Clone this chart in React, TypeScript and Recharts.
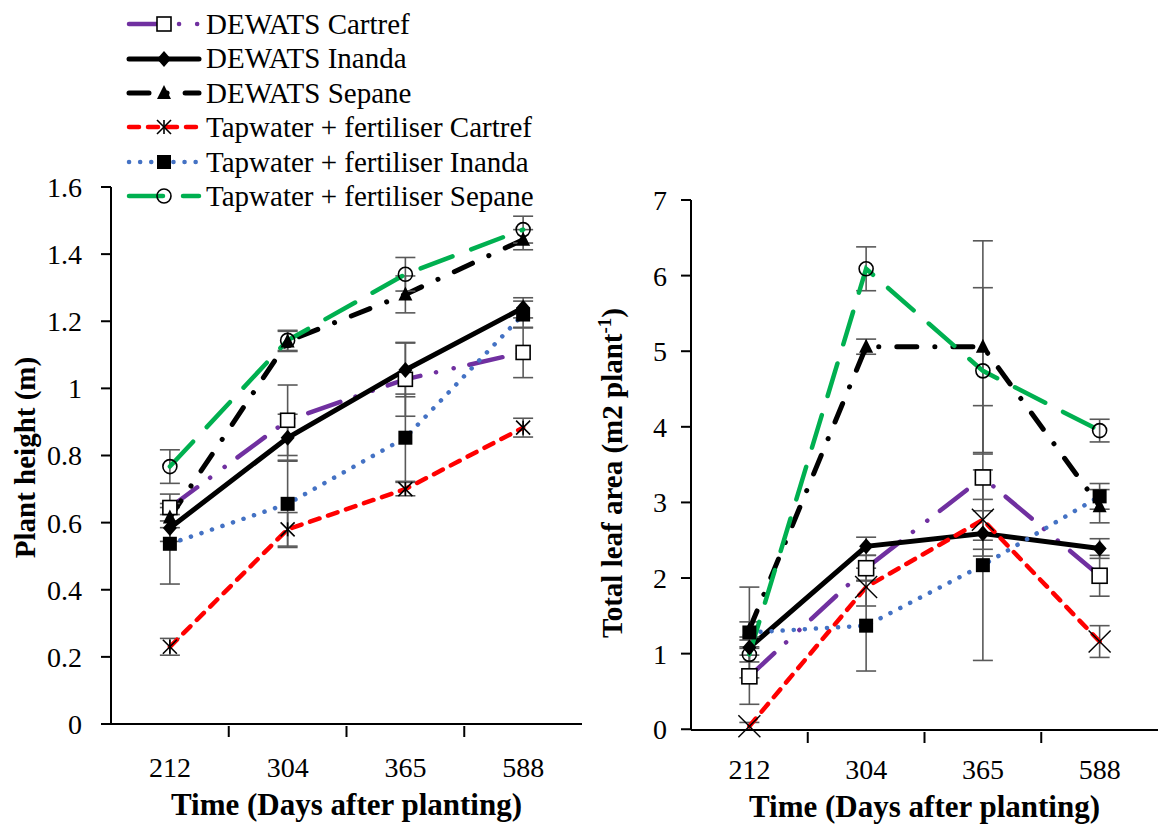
import React from 'react';
import { LineChart, Line, XAxis, YAxis, ErrorBar, Label } from 'recharts';

// categories (days after planting)
const days = ['212', '304', '365', '588'];

// plant height (m)
const heightCartrefD = [0.645, 0.905, 1.027, 1.107];
const heightInandaD = [0.584, 0.853, 1.055, 1.24];
const heightSepaneD = [0.615, 1.14, 1.28, 1.443];
const heightCartrefT = [0.23, 0.58, 0.7, 0.883];
const heightInandaT = [0.537, 0.656, 0.853, 1.22];
const heightSepaneT = [0.767, 1.143, 1.34, 1.473];

const heightErrCartrefD = [0.04, 0.105, 0.11, 0.075];
const heightErrInandaD = [0.04, 0.07, 0.08, 0.03];
const heightErrSepaneD = [0.03, 0.03, 0.055, 0.03];
const heightErrCartrefT = [0.025, 0.05, 0.02, 0.028];
const heightErrInandaT = [0.12, 0.13, 0.13, 0.04];
const heightErrSepaneT = [0.05, 0.03, 0.05, 0.04];

// total leaf area (m2 plant-1)
const areaCartrefD = [0.7, 2.13, 3.33, 2.03];
const areaInandaD = [1.08, 2.42, 2.59, 2.39];
const areaSepaneD = [1.32, 5.06, 5.06, 2.95];
const areaCartrefT = [0.04, 1.88, 2.77, 1.16];
const areaInandaT = [1.28, 1.37, 2.17, 3.08];
const areaSepaneT = [0.99, 6.09, 4.74, 3.95];

const areaErrCartrefD = [0.37, 0.17, 0.95, 0.27];
const areaErrInandaD = [0.1, 0.12, 0.3, 0.13];
const areaErrSepaneD = [0.1, 0.1, 1.4, 0.22];
const areaErrCartrefT = [0.05, 0.25, 0.27, 0.21];
const areaErrInandaT = [0.6, 0.6, 1.26, 0.17];
const areaErrSepaneT = [0.1, 0.29, 1.1, 0.15];

const heightTicks = [0, 0.2, 0.4, 0.6, 0.8, 1, 1.2, 1.4, 1.6];
const areaTicks = [0, 1, 2, 3, 4, 5, 6, 7];

const heightData = days.map((day, i) => ({
  day,
  cd: heightCartrefD[i], cdErr: heightErrCartrefD[i],
  id: heightInandaD[i], idErr: heightErrInandaD[i],
  sd: heightSepaneD[i], sdErr: heightErrSepaneD[i],
  ct: heightCartrefT[i], ctErr: heightErrCartrefT[i],
  it: heightInandaT[i], itErr: heightErrInandaT[i],
  st: heightSepaneT[i], stErr: heightErrSepaneT[i],
}));

const areaData = days.map((day, i) => ({
  day,
  cd: areaCartrefD[i], cdErr: areaErrCartrefD[i],
  id: areaInandaD[i], idErr: areaErrInandaD[i],
  sd: areaSepaneD[i], sdErr: areaErrSepaneD[i],
  ct: areaCartrefT[i], ctErr: areaErrCartrefT[i],
  it: areaInandaT[i], itErr: areaErrInandaT[i],
  st: areaSepaneT[i], stErr: areaErrSepaneT[i],
}));

const FONT = '"Liberation Serif", LiberationSerif, "Times New Roman", Times, "DejaVu Serif", serif';

const series = [
  { key: 'cd', name: 'DEWATS Cartref', color: '#7030A0', dash: '34 16 0.1 18 0.1 16', width: 4.5, marker: 'squareOpen' },
  { key: 'id', name: 'DEWATS Inanda', color: '#000000', dash: undefined, width: 5, marker: 'diamond' },
  { key: 'sd', name: 'DEWATS Sepane', color: '#000000', dash: '20 18 0.1 18', width: 5, marker: 'triangle' },
  { key: 'ct', name: 'Tapwater + fertiliser Cartref', color: '#FF0000', dash: '10 9', width: 4.5, marker: 'asterisk' },
  { key: 'it', name: 'Tapwater + fertiliser Inanda', color: '#4472C4', dash: '0.1 11', width: 4.5, marker: 'square' },
  { key: 'st', name: 'Tapwater + fertiliser Sepane', color: '#00B050', dash: '34 20', width: 4.5, marker: 'circle' },
];

function Marker({ cx, cy, shape, size }: any) {
  if (cx == null || cy == null) return null;
  const h = size / 2;
  switch (shape) {
    case 'squareOpen':
      return <rect x={cx - h} y={cy - h} width={size} height={size} fill="#fff" stroke="#000" strokeWidth={1.6} />;
    case 'square':
      return <rect x={cx - h} y={cy - h} width={size} height={size} fill="#000" />;
    case 'diamond':
      return <polygon points={`${cx},${cy - h - 1} ${cx + h},${cy} ${cx},${cy + h + 1} ${cx - h},${cy}`} fill="#000" />;
    case 'triangle':
      return <polygon points={`${cx},${cy - h - 1} ${cx + h},${cy + h - 1} ${cx - h},${cy + h - 1}`} fill="#000" />;
    case 'circle':
      return <circle cx={cx} cy={cy} r={h} fill="none" stroke="#000" strokeWidth={1.6} />;
    case 'asterisk':
      return (
        <g stroke="#000" strokeWidth={1.6}>
          <line x1={cx - h} y1={cy - h} x2={cx + h} y2={cy + h} />
          <line x1={cx - h} y1={cy + h} x2={cx + h} y2={cy - h} />
          <line x1={cx} y1={cy - h} x2={cx} y2={cy + h} />
        </g>
      );
    case 'cross':
      return (
        <g stroke="#000" strokeWidth={1.4}>
          <line x1={cx - h} y1={cy - h} x2={cx + h} y2={cy + h} />
          <line x1={cx - h} y1={cy + h} x2={cx + h} y2={cy - h} />
        </g>
      );
    default:
      return null;
  }
}

const makeDot = (shape: string, size: number) => (props: any) =>
  <Marker key={`${shape}-${props.index}`} cx={props.cx} cy={props.cy} shape={shape} size={size} />;

const makeXTick = (band: number, labelDy: number) => (props: any) => {
  const { x, y, payload, index } = props;
  return (
    <g>
      {index > 0 && (
        <line x1={x - band / 2} x2={x - band / 2} y1={y} y2={y + 11} stroke="#000" strokeWidth={2} />
      )}
      <text x={x} y={y + labelDy} textAnchor="middle" fontFamily={FONT} fontSize={28} fill="#000">
        {payload.value}
      </text>
    </g>
  );
};

function Legend() {
  return (
    <div style={{ position: 'absolute', left: 126, top: 7, fontFamily: FONT, fontSize: 29, lineHeight: '34.4px', color: '#000' }}>
      {series.map((s) => (
        <div key={s.key} style={{ display: 'flex', alignItems: 'center', height: 34.4 }}>
          <svg width={76} height={24} style={{ display: 'block' }}>
            <line x1={3} y1={12} x2={73} y2={12} stroke={s.color} strokeWidth={s.width}
              strokeDasharray={s.dash} strokeLinecap="round" />
            <Marker cx={38} cy={12} shape={s.marker} size={14} />
          </svg>
          <span style={{ marginLeft: 4, whiteSpace: 'nowrap' }}>{s.name}</span>
        </div>
      ))}
    </div>
  );
}

type PanelProps = {
  data: any[];
  left: number;
  width: number;
  margin: { top: number; right: number; left: number; bottom: number };
  yWidth: number;
  domain: [number, number];
  ticks: number[];
  yTitle: React.ReactNode;
  yTitleX: number;
  yTitleDy: number;
  xTitleDy: number;
  labelDy: number;
  tickMargin: number;
  markerScale: Record<string, [string, number]>;
};

function Panel(p: PanelProps) {
  const plotWidth = p.width - p.margin.left - p.margin.right - p.yWidth;
  const band = plotWidth / days.length;
  const axisStyle = { stroke: '#000', strokeWidth: 2 };
  return (
    <div style={{ position: 'absolute', left: p.left, top: 0 }}>
      <LineChart width={p.width} height={827} data={p.data} margin={p.margin}>
        <XAxis
          dataKey="day"
          scale="band"
          axisLine={axisStyle}
          tickLine={false}
          tickSize={0}
          tick={makeXTick(band, p.labelDy)}
          height={60}
          interval={0}
        >
          <Label
            content={(lp: any) => {
              const vb = lp.viewBox || {};
              return (
                <text x={vb.x + vb.width / 2} y={vb.y + p.xTitleDy} textAnchor="middle"
                  fontFamily={FONT} fontWeight="bold" fontSize={31} fill="#000">
                  Time (Days after planting)
                </text>
              );
            }}
          />
        </XAxis>
        <YAxis
          width={p.yWidth}
          domain={p.domain}
          ticks={p.ticks}
          axisLine={axisStyle}
          tickLine={{ stroke: '#000', strokeWidth: 2 }}
          tickSize={10}
          tickMargin={p.tickMargin}
          interval={0}
          tick={{ fontFamily: FONT, fontSize: 28, fill: '#000' }}
        >
          <Label
            content={(lp: any) => {
              const vb = lp.viewBox || {};
              const cy = vb.y + vb.height / 2 + p.yTitleDy;
              return (
                <text x={p.yTitleX} y={cy} transform={`rotate(-90 ${p.yTitleX} ${cy})`} textAnchor="middle"
                  fontFamily={FONT} fontWeight="bold" fontSize={29} fill="#000">
                  {p.yTitle}
                </text>
              );
            }}
          />
        </YAxis>
        {series.map((s) => {
          const [shape, size] = p.markerScale[s.key] || [s.marker, 14];
          return (
            <Line
              key={s.key}
              dataKey={s.key}
              name={s.name}
              stroke={s.color}
              strokeWidth={s.width}
              strokeDasharray={s.dash}
              strokeLinecap="round"
              dot={makeDot(shape, size)}
              activeDot={false}
              isAnimationActive={false}
            >
              <ErrorBar dataKey={`${s.key}Err`} width={10} stroke="#595959" strokeWidth={1.6} isAnimationActive={false} />
            </Line>
          );
        })}
      </LineChart>
    </div>
  );
}

export default function App() {
  return (
    <div style={{ position: 'absolute', left: 0, top: 0, width: 1158, height: 827, background: '#fff', overflow: 'hidden' }}>
      <Panel
        data={heightData}
        left={0}
        width={600}
        margin={{ top: 187, right: 18, left: 61, bottom: 43 }}
        yWidth={50}
        domain={[0, 1.6]}
        ticks={heightTicks}
        yTitle="Plant height (m)"
        yTitleX={35}
        yTitleDy={2}
        xTitleDy={91}
        labelDy={51}
        tickMargin={19}
        markerScale={{}}
      />
      <Panel
        data={areaData}
        left={560}
        width={598}
        margin={{ top: 200, right: 0, left: 71, bottom: 37 }}
        yWidth={60}
        domain={[0, 7]}
        ticks={areaTicks}
        yTitle={<>Total leaf area (m2 plant<tspan dy={-11} fontSize={19}>-1</tspan><tspan dy={11}>)</tspan></>}
        yTitleX={62}
        yTitleDy={8}
        xTitleDy={87}
        labelDy={47}
        tickMargin={14}
        markerScale={{ ct: ['cross', 22], cd: ['squareOpen', 15], it: ['square', 14] }}
      />
      <Legend />
    </div>
  );
}
